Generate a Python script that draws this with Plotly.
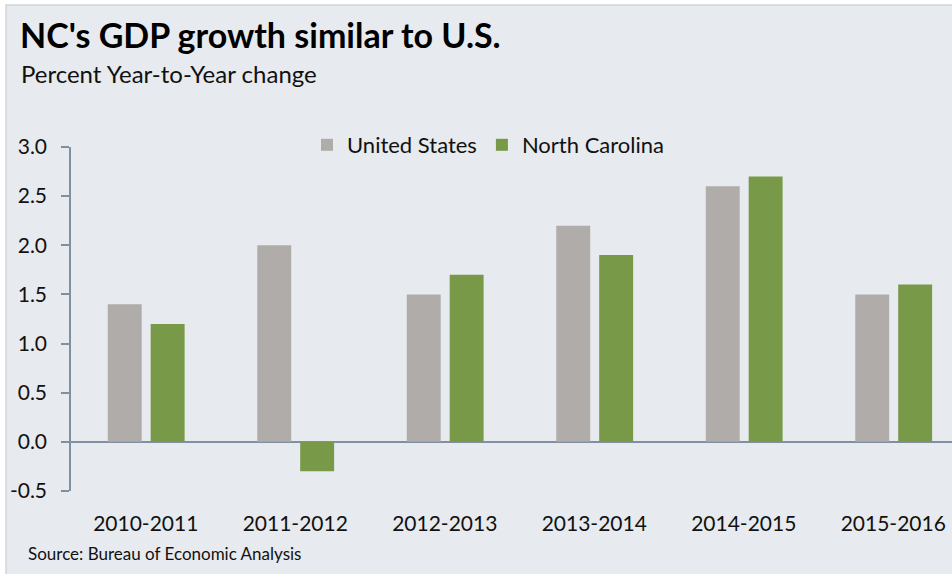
import plotly.graph_objects as go

categories = ["2010-2011", "2011-2012", "2012-2013", "2013-2014", "2014-2015", "2015-2016"]
us_values = [1.4, 2.0, 1.5, 2.2, 2.6, 1.5]
nc_values = [1.2, -0.3, 1.7, 1.9, 2.7, 1.6]
y_ticks = [-0.5, 0.0, 0.5, 1.0, 1.5, 2.0, 2.5, 3.0]
y_tick_labels = ["-0.5", "0.0", "0.5", "1.0", "1.5", "2.0", "2.5", "3.0"]

W, H = 952, 574
L, R, T, B = 71, 0, 147, 83
PW, PH = W - L - R, H - T - B

def px(x):
    return (x - L) / PW

def py(y):
    return 1 - (y - T) / PH

FONT = "Lato"
US_COLOR = "#b0acaa"
NC_COLOR = "#789a48"
AXIS_COLOR = "#8090a0"

fig = go.Figure()
fig.add_trace(go.Bar(name="United States", x=categories, y=us_values,
                     marker=dict(color=US_COLOR, line=dict(width=0)),
                     width=0.227, offset=-0.254))
fig.add_trace(go.Bar(name="North Carolina", x=categories, y=nc_values,
                     marker=dict(color=NC_COLOR, line=dict(width=0)),
                     width=0.227, offset=0.033))

fig.update_layout(
    width=W, height=H,
    margin=dict(l=L, r=R, t=T, b=B, autoexpand=False),
    paper_bgcolor="white",
    plot_bgcolor="rgba(0,0,0,0)",
    barmode="overlay",
    font=dict(family=FONT, color="#111111"),
    showlegend=True,
    legend=dict(orientation="h", x=px(307), y=py(145), xanchor="left", yanchor="middle",
                font=dict(size=22, family=FONT, color="#111111"),
                bgcolor="rgba(0,0,0,0)", itemclick=False, traceorder="normal"),
    xaxis=dict(range=[-0.5, -0.5 + PW / 149.5], showline=False, showgrid=False,
               zeroline=False, ticks="outside", ticklen=14, tickcolor="rgba(0,0,0,0)",
               tickfont=dict(size=21, family=FONT, color="#111111"), fixedrange=True),
    yaxis=dict(range=[-0.5, 3.0], tickvals=y_ticks, ticktext=y_tick_labels,
               showline=True, linecolor=AXIS_COLOR, linewidth=1.5,
               ticks="outside", ticklen=8, tickcolor=AXIS_COLOR, tickwidth=1.5,
               showgrid=False, zeroline=True, zerolinecolor=AXIS_COLOR, zerolinewidth=2,
               ticklabelstandoff=10,
               tickfont=dict(size=21, family=FONT, color="#111111"), fixedrange=True),
    shapes=[dict(type="rect", xref="paper", yref="paper", layer="below",
                 x0=px(6), x1=px(W + 20), y0=py(H + 20), y1=py(5),
                 fillcolor="#e7eaee", line=dict(color="#d2d6da", width=1.5))],
    annotations=[
        dict(text="<b>NC's GDP growth similar to U.S.</b>", xref="paper", yref="paper",
             x=px(18), y=py(34), xanchor="left", yanchor="middle", showarrow=False,
             font=dict(size=34, family=FONT, color="#000000")),
        dict(text="Percent Year-to-Year change", xref="paper", yref="paper",
             x=px(19), y=py(73), xanchor="left", yanchor="middle", showarrow=False,
             font=dict(size=24, family=FONT, color="#111111")),
        dict(text="Source: Bureau of Economic Analysis", xref="paper", yref="paper",
             x=px(26), y=py(553), xanchor="left", yanchor="middle", showarrow=False,
             font=dict(size=17, family=FONT, color="#111111")),
    ],
)

fig.write_html("out.html", config={"displayModeBar": False},
               post_script="document.body.style.margin='0';")
